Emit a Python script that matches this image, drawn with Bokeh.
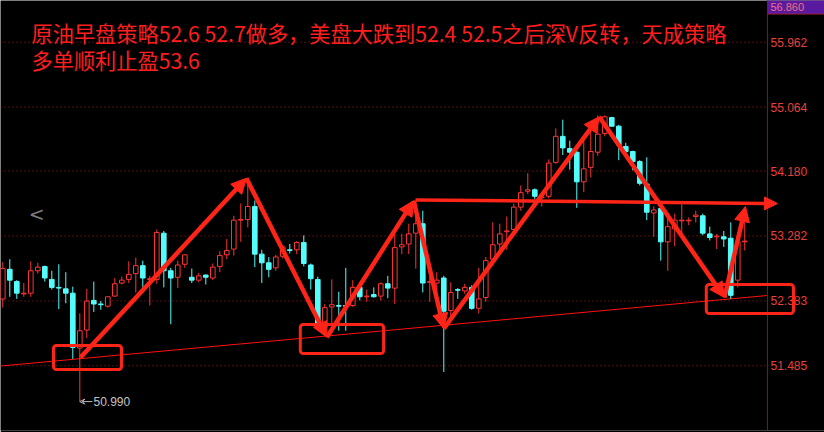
from bokeh.plotting import figure
from bokeh.models import (Range1d, ColumnDataSource, Arrow, NormalHead, VeeHead,
                          BoxAnnotation, Label, Span)
from bokeh.core.properties import value
from bokeh.embed import file_html
from bokeh.resources import INLINE

# Crude oil intraday candles (one bar per period)
opens = [52.41, 52.82, 52.65, 52.48, 52.49, 52.80, 52.86, 52.68, 52.57, 52.55,
         52.49, 51.73, 51.98, 52.39, 52.34, 52.31, 52.45, 52.63, 52.68, 52.76,
         52.87, 52.68, 52.68, 53.32, 52.80, 52.71, 52.89, 52.71, 52.67, 52.74,
         52.70, 52.86, 53.02, 53.10, 53.50, 53.51, 53.69, 53.03, 52.91, 52.84,
         53.00, 53.09, 53.09, 53.19, 52.88, 52.68, 52.02, 52.30, 52.32, 52.32,
         52.32, 52.57, 52.44, 52.47, 52.45, 52.62, 52.56, 53.13, 53.17, 53.32,
         53.45, 52.64, 52.63, 52.70, 52.25, 52.54, 52.52, 52.57, 52.28, 52.43,
         52.96, 53.17, 53.34, 53.37, 53.68, 53.90, 53.92, 53.81, 53.83, 54.30,
         54.66, 54.49, 54.44, 54.03, 54.23, 54.44, 54.70, 54.92, 54.80, 54.52,
         54.45, 54.31, 54.00, 53.60, 53.66, 53.20, 53.38, 53.49, 53.49, 53.55,
         53.56, 53.31, 53.27, 53.27, 53.25, 52.67, 53.20]
highs = [52.92, 52.96, 52.67, 52.63, 52.93, 52.91, 52.87, 52.80, 52.89, 52.78,
         52.58, 52.21, 52.55, 52.65, 52.38, 52.44, 52.70, 52.72, 52.93, 52.98,
         52.94, 52.73, 53.37, 53.35, 52.84, 52.94, 53.03, 52.83, 52.77, 52.75,
         52.90, 53.07, 53.24, 53.56, 53.73, 54.07, 53.77, 53.09, 52.99, 53.02,
         53.15, 53.17, 53.21, 53.29, 52.90, 52.72, 52.34, 52.68, 52.51, 52.84,
         52.67, 52.61, 52.54, 52.57, 52.64, 52.73, 53.31, 53.31, 53.45, 53.75,
         53.63, 52.72, 52.78, 52.73, 52.64, 52.56, 52.62, 52.60, 52.84, 52.99,
         53.47, 53.45, 53.55, 53.73, 53.98, 54.15, 53.94, 53.86, 54.34, 54.77,
         54.89, 54.60, 54.46, 54.60, 54.72, 54.95, 54.95, 54.93, 54.82, 54.57,
         54.46, 54.33, 54.37, 53.69, 53.68, 53.59, 53.59, 53.72, 53.54, 53.63,
         53.59, 53.41, 53.31, 53.35, 53.47, 53.33, 53.68]
lows = [52.29, 52.44, 52.41, 52.44, 52.44, 52.76, 52.65, 52.54, 52.27, 52.35,
        51.58, 50.99, 51.87, 52.23, 52.26, 52.29, 52.44, 52.61, 52.63, 52.50,
        52.57, 52.32, 52.62, 52.57, 52.06, 52.56, 52.84, 52.63, 52.64, 52.61,
        52.67, 52.78, 52.96, 53.01, 53.20, 53.40, 52.85, 52.63, 52.71, 52.80,
        52.97, 53.04, 53.03, 52.86, 52.54, 52.02, 51.90, 51.97, 51.97, 51.97,
        52.30, 52.39, 52.37, 52.43, 52.39, 52.42, 52.34, 53.03, 53.03, 52.83,
        52.50, 52.37, 52.39, 51.40, 52.16, 52.41, 52.48, 52.26, 52.21, 52.37,
        52.87, 53.10, 53.09, 53.33, 53.63, 53.86, 53.79, 53.69, 53.80, 54.28,
        54.40, 54.20, 53.67, 53.89, 54.09, 54.39, 54.66, 54.79, 54.33, 54.39,
        54.19, 53.98, 53.50, 53.27, 52.94, 52.80, 53.14, 53.26, 53.43, 53.47,
        53.29, 53.22, 53.10, 53.13, 52.41, 52.57, 53.08]
closes = [52.83, 52.67, 52.49, 52.49, 52.80, 52.85, 52.70, 52.57, 52.56, 52.49,
          51.74, 51.97, 52.38, 52.34, 52.33, 52.44, 52.62, 52.67, 52.75, 52.87,
          52.70, 52.69, 53.33, 52.80, 52.70, 52.88, 53.02, 52.67, 52.73, 52.71,
          52.85, 53.01, 53.08, 53.50, 53.51, 53.69, 53.03, 52.91, 52.82, 52.99,
          53.13, 53.08, 53.19, 52.90, 52.69, 52.04, 52.29, 52.33, 52.31, 52.31,
          52.57, 52.44, 52.45, 52.44, 52.62, 52.56, 53.12, 53.16, 53.31, 53.45,
          52.63, 52.65, 52.67, 52.24, 52.50, 52.53, 52.57, 52.28, 52.41, 52.94,
          53.16, 53.31, 53.35, 53.68, 53.88, 53.92, 53.83, 53.82, 54.29, 54.66,
          54.50, 54.44, 54.03, 54.21, 54.45, 54.69, 54.93, 54.80, 54.54, 54.45,
          54.31, 54.01, 53.61, 53.64, 53.20, 53.41, 53.50, 53.50, 53.50, 53.57,
          53.32, 53.26, 53.28, 53.24, 52.46, 53.20, 53.21]

# Price scale marks shown on the right-hand scale
price_ticks = [51.485, 52.383, 53.282, 54.180, 55.064, 55.962]
low_price = 50.990
top_tag = "56.860"

title_line1 = "原油早盘策略52.6 52.7做多，美盘大跌到52.4 52.5之后深V反转，天成策略"
title_line2 = "多单顺利止盈53.6"

# Hand-drawn strategy path (bar index, price) and the support line
path_x = [11.1, 34.8, 46.3, 58.7, 63.0, 85.2, 103.1, 106.1]
path_y = [51.60, 54.08, 51.88, 53.77, 52.00, 54.93, 52.43, 53.69]
neck_x = [58.96, 110.67]
neck_y = [53.78, 53.73]
support_x = [-0.33, 109.24]
support_y = [51.482, 52.458]
# Highlight boxes around the three lows: (left, right, bottom, top)
boxes = [(7.24, 16.96, 51.434, 51.766),
         (42.5, 54.4, 51.655, 52.056),
         (100.5, 112.96, 52.208, 52.610)]

UP = "#ff3434"
DOWN = "#54fcfc"
MARK = "#ff2418"
SCALE = "#e8403a"
BG = "#000000"

X0, X1 = -0.33, 117.39      # visible bar-index span (chart + price scale)
Y0, Y1 = 50.59, 56.539
SCALE_X = 109.24            # bar index where the price scale begins

n = len(opens)
idx = list(range(n))
is_up = [c >= o for o, c in zip(opens, closes)]
src = ColumnDataSource(dict(
    x=idx, o=opens, h=highs, l=lows, c=closes,
    top=[max(o, c) for o, c in zip(opens, closes)],
    bot=[min(o, c) for o, c in zip(opens, closes)],
    col=[UP if u else DOWN for u in is_up],
    fill=[BG if u else DOWN for u in is_up],
))

p = figure(width=824, height=432, frame_width=824, frame_height=430,
           x_range=Range1d(X0, X1), y_range=Range1d(Y0, Y1),
           x_axis_location=None, y_axis_location=None,
           output_backend="svg", toolbar_location=None,
           background_fill_color=BG, border_fill_color=BG,
           min_border_left=0, min_border_right=0, min_border_top=0,
           min_border_bottom=2, outline_line_color=None)
p.grid.visible = False

# dotted price grid up to the scale, the scale line and its labels
p.segment(x0=[X0] * len(price_ticks), x1=[SCALE_X] * len(price_ticks),
          y0=price_ticks, y1=price_ticks, line_color="#b01c1c",
          line_dash="1 3", line_width=1)
p.add_layout(Span(location=SCALE_X, dimension="height", line_color="#8c1414", line_width=1))
p.text(x=[SCALE_X + 0.43] * len(price_ticks), y=price_ticks,
       text=[f"{t:.3f}" for t in price_ticks], text_color=SCALE,
       text_font=value("Liberation Sans"), text_font_size="12px", text_baseline="middle")

# current-price tag at the top of the scale (box under, text on top)
p.add_layout(BoxAnnotation(left=SCALE_X + 0.02, right=X1 + 1, bottom=56.352, top=Y1 + 1,
                           fill_color="#5a1aa0", fill_alpha=1, line_color="#a02040",
                           line_alpha=1, line_width=1, level="underlay"))
p.add_layout(Label(x=SCALE_X + 0.43, y=56.447, text=top_tag, text_color="#f07080",
                   text_font="Liberation Sans", text_font_size="11px", text_baseline="middle"))

# support line under the lows
p.line(support_x, support_y, line_color="#ff1010", line_width=1)

# candles: wicks first, then bodies (hollow red up bars, solid cyan down bars)
p.segment(x0="x", y0="h", x1="x", y1="l", line_color="col", line_width=1, source=src)
p.vbar(x="x", top="top", bottom="bot", width=0.66, fill_color="fill",
       line_color="col", line_width=1, source=src)

# strategy arrows
for i in range(len(path_x) - 1):
    p.add_layout(Arrow(x_start=path_x[i], y_start=path_y[i],
                       x_end=path_x[i + 1], y_end=path_y[i + 1],
                       line_color=MARK, line_width=4.5,
                       end=NormalHead(size=15, fill_color=MARK, line_color=MARK, line_width=1)))
p.add_layout(Arrow(x_start=neck_x[0], y_start=neck_y[0], x_end=neck_x[1], y_end=neck_y[1],
                   line_color=MARK, line_width=3.5,
                   end=NormalHead(size=13, fill_color=MARK, line_color=MARK, line_width=1)))

for (l, r, b, t) in boxes:
    p.add_layout(BoxAnnotation(left=l, right=r, bottom=b, top=t, fill_alpha=0,
                               line_color=MARK, line_alpha=1, line_width=3, border_radius=3))

# lowest price marker
p.add_layout(Arrow(x_start=12.8, y_start=low_price, x_end=11.0, y_end=low_price,
                   line_color="#b8b8b8", line_width=1,
                   end=VeeHead(size=5, line_color="#b8b8b8", line_width=1, fill_alpha=0)))
p.add_layout(Label(x=12.95, y=low_price, text=f"{low_price:.3f}", text_color="#c4c4c4",
                   text_font="Liberation Sans", text_font_size="12px", text_baseline="middle"))

# navigation chevron
p.add_layout(Label(x=3.7, y=53.59, text="<", text_color="#7c7c7c",
                   text_font="DejaVu Sans", text_font_size="19px", text_baseline="middle"))

# headline
p.add_layout(Label(x=4.1, y=56.10, text=title_line1, text_color="#ff1e1e",
                   text_font="Noto Sans CJK SC", text_font_size="21.2px", text_baseline="middle"))
p.add_layout(Label(x=4.1, y=55.72, text=title_line2, text_color="#ff1e1e",
                   text_font="Noto Sans CJK SC", text_font_size="21.2px", text_baseline="middle"))

open("out.html", "w").write(file_html(p, INLINE))
